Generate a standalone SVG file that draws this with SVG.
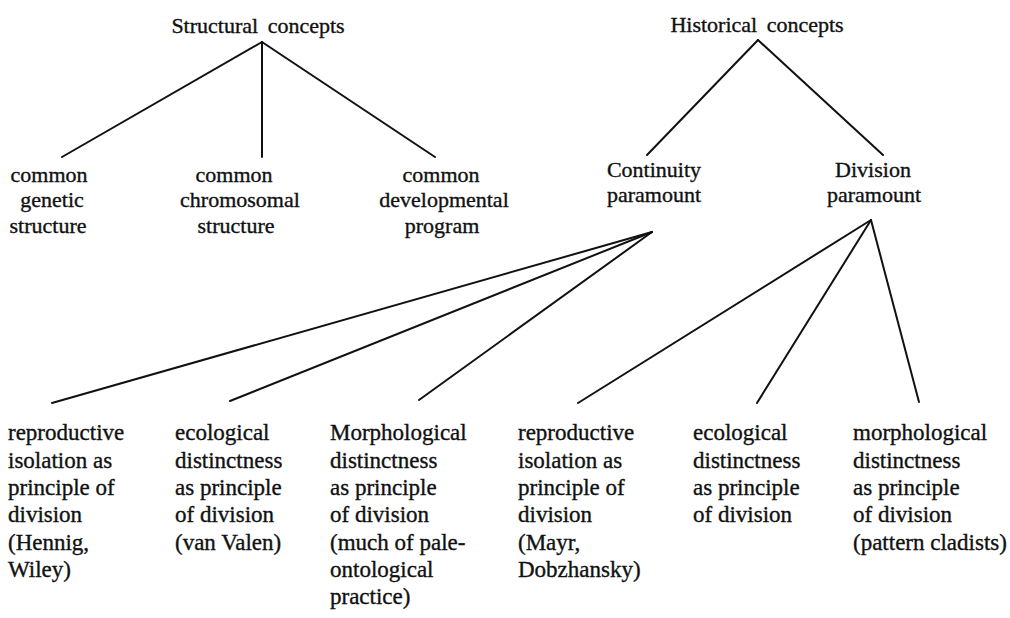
<svg xmlns="http://www.w3.org/2000/svg" width="1010" height="618" viewBox="0 0 1010 618">
<style>
text{font-family:'Liberation Serif','DejaVu Serif',serif;fill:#111;stroke:#111;stroke-width:0.35;}
.h{font-size:22px;text-anchor:middle;word-spacing:4px;}
.m{font-size:22px;text-anchor:middle;}
.b{font-size:23px;}
.c line{stroke:#111;stroke-width:2;stroke-linecap:round;}
</style>
<rect width="1010" height="618" fill="#fff"/>
<g class="c" id="connectors">
<line x1="262" y1="42" x2="62" y2="157"/>
<line x1="262" y1="42" x2="262" y2="157"/>
<line x1="262" y1="42" x2="435" y2="157"/>
<line x1="758" y1="40" x2="647" y2="155"/>
<line x1="758" y1="40" x2="883" y2="155"/>
<line x1="652" y1="232" x2="52" y2="403"/>
<line x1="652" y1="232" x2="230" y2="401"/>
<line x1="652" y1="232" x2="419" y2="400"/>
<line x1="871" y1="220" x2="578" y2="403"/>
<line x1="871" y1="220" x2="757" y2="403"/>
<line x1="871" y1="220" x2="919" y2="402"/>
</g>
<g id="structural"><text class="h" x="258" y="33">Structural concepts</text></g>
<g id="historical"><text class="h" x="757" y="32">Historical concepts</text></g>
<g id="genetic"><text class="m" x="49" y="182">common</text><text class="m" x="52" y="207">genetic</text><text class="m" x="48" y="233">structure</text></g>
<g id="chromosomal"><text class="m" x="234" y="182">common</text><text class="m" x="240" y="207">chromosomal</text><text class="m" x="236" y="233">structure</text></g>
<g id="developmental"><text class="m" x="441" y="182">common</text><text class="m" x="444" y="207">developmental</text><text class="m" x="442" y="233">program</text></g>
<g id="continuity"><text class="m" x="654" y="177">Continuity</text><text class="m" x="654" y="202">paramount</text></g>
<g id="division"><text class="m" x="873" y="177">Division</text><text class="m" x="874" y="202">paramount</text></g>
<g id="c1"><text class="b" x="8" y="440">reproductive</text><text class="b" x="8" y="467.5">isolation as</text><text class="b" x="8" y="495">principle of</text><text class="b" x="8" y="522">division</text><text class="b" x="8" y="550">(Hennig,</text><text class="b" x="8" y="577">Wiley)</text></g>
<g id="c2"><text class="b" x="175" y="440">ecological</text><text class="b" x="175" y="467.5">distinctness</text><text class="b" x="175" y="495">as principle</text><text class="b" x="175" y="522">of division</text><text class="b" x="175" y="550">(van Valen)</text></g>
<g id="c3"><text class="b" x="330" y="440">Morphological</text><text class="b" x="330" y="467.5">distinctness</text><text class="b" x="330" y="495">as principle</text><text class="b" x="330" y="522">of division</text><text class="b" x="330" y="550">(much of pale-</text><text class="b" x="330" y="577">ontological</text><text class="b" x="330" y="604">practice)</text></g>
<g id="d1"><text class="b" x="518" y="440">reproductive</text><text class="b" x="518" y="467.5">isolation as</text><text class="b" x="518" y="495">principle of</text><text class="b" x="518" y="522">division</text><text class="b" x="518" y="550">(Mayr,</text><text class="b" x="518" y="577">Dobzhansky)</text></g>
<g id="d2"><text class="b" x="693" y="440">ecological</text><text class="b" x="693" y="467.5">distinctness</text><text class="b" x="693" y="495">as principle</text><text class="b" x="693" y="522">of division</text></g>
<g id="d3"><text class="b" x="853" y="440">morphological</text><text class="b" x="853" y="467.5">distinctness</text><text class="b" x="853" y="495">as principle</text><text class="b" x="853" y="522">of division</text><text class="b" x="853" y="550">(pattern cladists)</text></g>
</svg>
